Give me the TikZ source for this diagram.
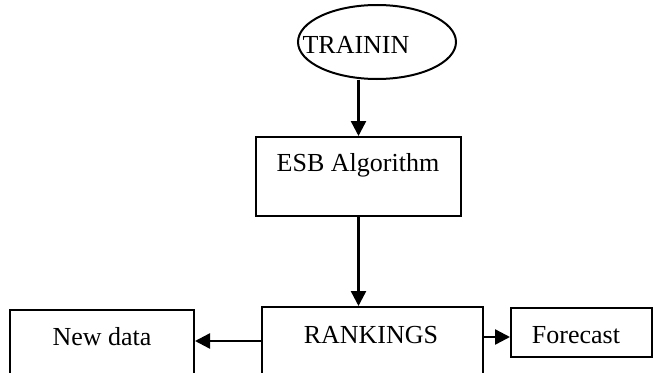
\documentclass[tikz,border=0pt]{standalone}
\usepackage{fontspec}
\setmainfont{Liberation Serif}
\usetikzlibrary{shapes.geometric,arrows.meta}
\begin{document}
\begin{tikzpicture}[x=1pt,y=-1pt,
  box/.style={draw,line width=2pt,rectangle,inner sep=0pt},
  oval/.style={draw,line width=2pt,ellipse,inner sep=0pt},
  lbl/.style={inner sep=0pt,font=\fontsize{26}{30}\selectfont},
  arr/.style={line width=2.4pt,-{Triangle[length=15pt,width=15pt]}}]
\useasboundingbox (0,0) rectangle (653,372);
\clip (0,0) rectangle (653,372);
\node[oval,minimum width=158pt,minimum height=74pt] (train) at (377,42) {};
\node[lbl] (traint) at (356,45) {TRAININ};
\node[box,minimum width=205pt,minimum height=79pt] (esb) at (358.5,176.5) {};
\node[lbl] (esbt) at (358,165) {ESB Algorithm};
\node[box,minimum width=221pt,minimum height=83pt] (rank) at (372.5,348.5) {};
\node[lbl] (rankt) at (371,335) {RANKINGS};
\node[box,minimum width=184pt,minimum height=80pt] (nd) at (102,350) {};
\node[lbl] (ndt) at (102,337) {New data};
\node[box,minimum width=141pt,minimum height=49pt] (fc) at (581.5,332.5) {};
\node[lbl] (fct) at (576,335) {Forecast};
\coordinate (rw) at ([yshift=7.5pt]rank.west);
\coordinate (fw) at ([yshift=-4.5pt]fc.west);
\draw[arr] (esb.north |- train.south) -- (esb.north);
\draw[arr] (esb.south) -- (esb.south |- rank.north);
\draw[arr] (rw) -- (nd.east |- rw);
\draw[arr] (rank.east |- fw) -- (fw);
\end{tikzpicture}
\end{document}
